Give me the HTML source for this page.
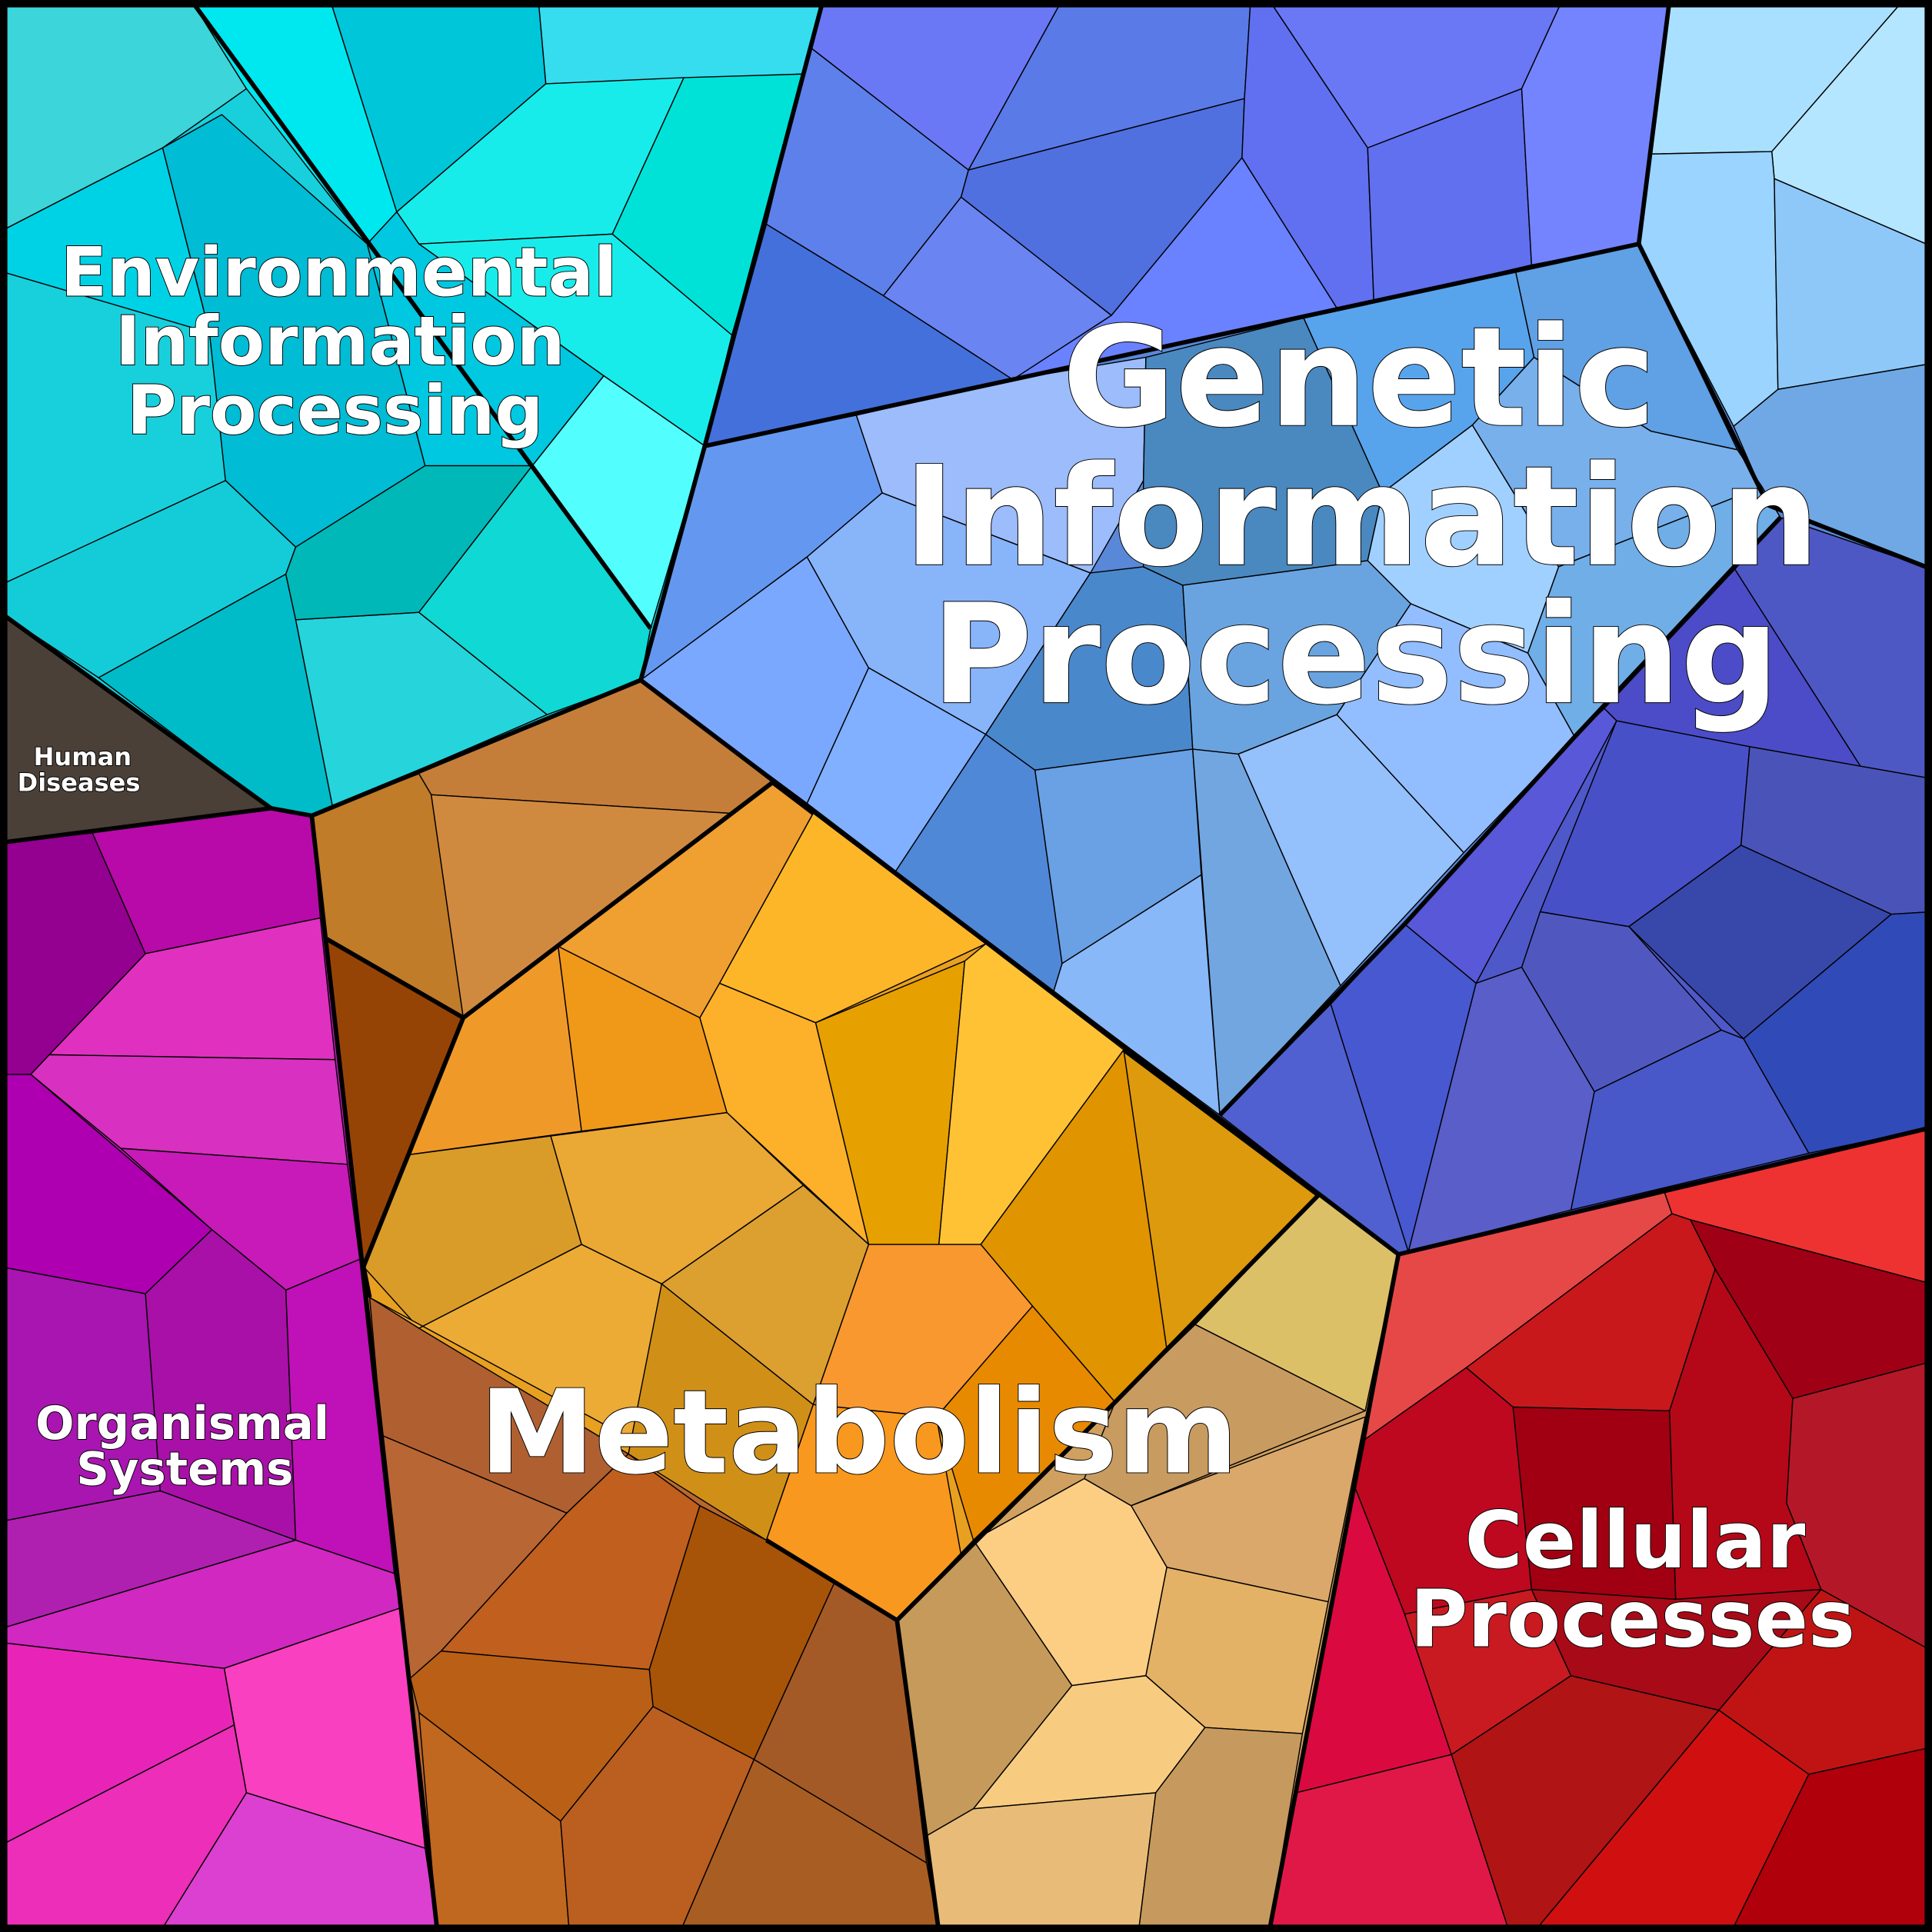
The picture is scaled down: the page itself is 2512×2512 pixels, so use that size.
<!DOCTYPE html>
<html><head><meta charset="utf-8"><style>
html,body{margin:0;padding:0;background:#000}
svg{display:block}
.c polygon{stroke:#000;stroke-width:0.9;stroke-linejoin:round}
.b polygon{stroke:none}
.t{font-family:"DejaVu Sans","Liberation Sans",sans-serif;font-weight:bold;fill:#fff;stroke:#000;stroke-width:1.2;paint-order:stroke;text-anchor:middle}
.k{fill:none;stroke:#000;stroke-width:3.6;stroke-linejoin:round}
</style></head><body>
<svg width="2512" height="2512" viewBox="0 0 1568 1568" xmlns="http://www.w3.org/2000/svg">
<rect width="1568" height="1568" fill="#5a88d8"/>
<g class="b">
<polygon fill="#18d0dc" points="0,0 668,0 572,362 520,552 253,662 220,656 0,497"/>
<polygon fill="#c01ab8" points="0,684 220,656 253,662 355,1568 0,1568"/>
<polygon fill="#b86630" points="253,662 520,552 1135,1018 1030,1568 355,1568"/>
<polygon fill="#e8a020" points="376,826 627,635 912,852 1070,970 905,1138 728,1315 622,1250 300,1053 295,1028"/>
<polygon fill="#d0a060" points="905,1138 1070,970 1135,1018 1030,1568 762,1568 728,1315"/>
<polygon fill="#c01020" points="1135,1018 1568,915 1568,1568 1030,1568"/>
<polygon fill="#6a88f0" points="668,0 1355,0 1330,198 822,308 572,362"/>
<polygon fill="#4e58c8" points="1445,420 1568,462 1568,915 1135,1018 990,905 1140,750 1278,598"/>
</g>
<g class="c">
<polygon fill="#3bd5da" points="0,0 155,0 200,72 132,120 0,188"/>
<polygon fill="#00e8ef" points="155,0 268,0 322,172 298,198 200,72"/>
<polygon fill="#00c6da" points="268,0 437,0 443,68 322,172"/>
<polygon fill="#36ddef" points="437,0 668,0 655,60 443,68"/>
<polygon fill="#18ecea" points="443,68 555,63 497,190 340,198 322,172"/>
<polygon fill="#00e2d8" points="555,63 655,60 594,272 497,190"/>
<polygon fill="#18ecea" points="340,198 497,190 594,272 572,362 490,305"/>
<polygon fill="#52fffe" points="490,305 572,362 528,510 432,378"/>
<polygon fill="#00d2e6" points="0,188 132,120 170,270 0,220"/>
<polygon fill="#00bcd4" points="132,120 180,93 298,198 345,378 240,444 183,390 170,270"/>
<polygon fill="#00c8e0" points="298,198 322,172 340,198 490,305 432,378 345,378"/>
<polygon fill="#14ccd8" points="0,475 183,390 240,444 232,466 80,550 0,497"/>
<polygon fill="#00bcc8" points="80,550 232,466 240,503 270,655 253,662 220,656"/>
<polygon fill="#26d4dc" points="240,503 340,497 444,580 270,655"/>
<polygon fill="#00b8b8" points="232,466 240,444 345,378 432,378 340,497 240,503"/>
<polygon fill="#10d8d4" points="340,497 432,378 528,510 520,552 444,580"/>
<polygon fill="#4b4038" points="0,497 220,656 0,684"/>
<polygon fill="#940090" points="0,684 75,676 118,774 25,872 0,875"/>
<polygon fill="#b80aa8" points="75,676 220,656 253,662 260,745 118,774"/>
<polygon fill="#e030c0" points="118,774 260,745 272,860 40,856"/>
<polygon fill="#d830c0" points="40,856 272,860 282,945 98,932 25,872"/>
<polygon fill="#ae00b0" points="0,872 25,872 172,998 118,1050 0,1028"/>
<polygon fill="#c81ab8" points="98,932 282,945 292,1022 232,1047 172,998"/>
<polygon fill="#a810a8" points="118,1050 172,998 232,1047 240,1250 130,1210"/>
<polygon fill="#a815b0" points="0,1028 118,1050 130,1210 0,1235"/>
<polygon fill="#c010b8" points="232,1047 292,1022 320,1277 240,1250"/>
<polygon fill="#b020b0" points="0,1235 130,1210 240,1250 0,1322"/>
<polygon fill="#d028c0" points="0,1322 240,1250 320,1277 325,1305 182,1354 0,1333"/>
<polygon fill="#e824b8" points="0,1333 182,1354 190,1400 0,1498"/>
<polygon fill="#f840c0" points="182,1354 325,1305 345,1500 200,1455"/>
<polygon fill="#ec2eb8" points="0,1498 190,1400 200,1455 130,1568 0,1568"/>
<polygon fill="#dc40d0" points="200,1455 345,1500 355,1568 130,1568"/>
<polygon fill="#c47e3a" points="253,662 520,552 627,635 592,660 350,645 340,628"/>
<polygon fill="#c07c28" points="253,662 340,628 350,645 376,826 265,762"/>
<polygon fill="#d08a40" points="350,645 592,660 376,826"/>
<polygon fill="#964406" points="265,762 376,826 295,1028"/>
<polygon fill="#ef9a28" points="376,826 453,768 472,918 333,937"/>
<polygon fill="#f09818" points="453,768 568,826 590,903 472,918"/>
<polygon fill="#f0a030" points="453,768 627,635 660,660 584,798 568,826"/>
<polygon fill="#fdb02a" points="568,826 584,798 662,830 705,1010 590,903"/>
<polygon fill="#fdb628" points="584,798 660,660 800,766 662,830"/>
<polygon fill="#e6a000" points="662,830 783,780 762,1010 705,1010"/>
<polygon fill="#ffc235" points="783,780 800,766 912,852 796,1010 762,1010"/>
<polygon fill="#e09400" points="912,852 947,1095 905,1138 838,1060 796,1010"/>
<polygon fill="#dd9a0c" points="912,852 1070,970 970,1075 947,1095"/>
<polygon fill="#da9c28" points="333,937 447,922 472,1010 340,1078 295,1028"/>
<polygon fill="#eaa835" points="447,922 590,903 652,962 537,1042 472,1010"/>
<polygon fill="#ecab35" points="340,1078 472,1010 537,1042 516,1170 300,1053"/>
<polygon fill="#dba030" points="537,1042 652,962 705,1010 660,1140"/>
<polygon fill="#d09018" points="537,1042 660,1140 622,1250 510,1180"/>
<polygon fill="#f8982e" points="705,1010 796,1010 838,1060 760,1150 660,1140"/>
<polygon fill="#e88a00" points="838,1060 905,1138 790,1250 760,1150"/>
<polygon fill="#f8981e" points="660,1140 760,1150 780,1262 728,1315 622,1250"/>
<polygon fill="#b06030" points="300,1053 340,1078 510,1180 460,1228 310,1165"/>
<polygon fill="#b86634" points="310,1165 460,1228 358,1340 333,1362"/>
<polygon fill="#c05f1e" points="460,1228 510,1180 568,1222 527,1355 358,1340"/>
<polygon fill="#a85408" points="568,1222 622,1250 677,1285 612,1428 530,1385 527,1355"/>
<polygon fill="#b96016" points="333,1362 358,1340 527,1355 530,1385 455,1478 340,1390"/>
<polygon fill="#c06820" points="340,1390 455,1478 462,1568 355,1568"/>
<polygon fill="#ba5f20" points="455,1478 530,1385 612,1428 552,1568 462,1568"/>
<polygon fill="#a45a26" points="612,1428 677,1285 728,1315 752,1512"/>
<polygon fill="#a85e22" points="552,1568 612,1428 752,1512 762,1568"/>
<polygon fill="#dcc068" points="970,1075 1070,970 1135,1018 1108,1145"/>
<polygon fill="#c89b60" points="905,1138 970,1075 1108,1145 918,1222 880,1200"/>
<polygon fill="#daa86a" points="918,1222 1108,1150 1078,1300 947,1272"/>
<polygon fill="#fbce84" points="790,1250 880,1200 918,1222 947,1272 930,1360 870,1368"/>
<polygon fill="#c69a5a" points="728,1315 790,1250 870,1368 790,1468 752,1490"/>
<polygon fill="#e4b266" points="947,1272 1078,1300 1057,1407 978,1402 930,1360"/>
<polygon fill="#f8cc80" points="870,1368 930,1360 978,1402 938,1455 790,1468"/>
<polygon fill="#e8bc78" points="752,1490 790,1468 938,1455 924,1568 762,1568"/>
<polygon fill="#c69a5e" points="938,1455 978,1402 1057,1407 1030,1568 924,1568"/>
<polygon fill="#e64848" points="1135,1018 1350,965 1357,985 1190,1110 1108,1168"/>
<polygon fill="#ee3232" points="1350,965 1568,915 1568,1042 1372,990 1357,985"/>
<polygon fill="#c8181c" points="1357,985 1372,990 1392,1030 1355,1145 1228,1142 1190,1110"/>
<polygon fill="#a00016" points="1372,990 1568,1042 1568,1105 1455,1135 1392,1030"/>
<polygon fill="#be0820" points="1108,1168 1190,1110 1228,1142 1243,1290 1140,1310 1100,1208"/>
<polygon fill="#a00012" points="1228,1142 1355,1145 1360,1298 1243,1290"/>
<polygon fill="#b40818" points="1392,1030 1455,1135 1450,1220 1478,1290 1360,1298 1355,1145"/>
<polygon fill="#b41828" points="1455,1135 1568,1105 1568,1340 1478,1290 1450,1220"/>
<polygon fill="#da0a40" points="1100,1208 1140,1310 1178,1424 1052,1455"/>
<polygon fill="#c81a20" points="1140,1310 1243,1290 1275,1360 1178,1424"/>
<polygon fill="#a80a18" points="1243,1290 1360,1298 1478,1290 1395,1388 1275,1360"/>
<polygon fill="#c01414" points="1478,1290 1568,1340 1568,1418 1468,1440 1395,1388"/>
<polygon fill="#e01848" points="1052,1455 1178,1424 1225,1568 1030,1568"/>
<polygon fill="#b01414" points="1178,1424 1275,1360 1395,1388 1245,1568 1225,1568"/>
<polygon fill="#d01010" points="1245,1568 1395,1388 1468,1440 1405,1568"/>
<polygon fill="#b0000c" points="1405,1568 1468,1440 1568,1418 1568,1568"/>
<polygon fill="#6a78f6" points="668,0 862,0 786,138 657,38"/>
<polygon fill="#5e80ea" points="657,38 786,138 780,160 717,240 622,182"/>
<polygon fill="#5a7ae8" points="862,0 1015,0 1010,80 786,138"/>
<polygon fill="#5070e0" points="786,138 1010,80 1008,128 902,256 780,160"/>
<polygon fill="#4470dc" points="622,182 717,240 822,308 572,362"/>
<polygon fill="#6a84f2" points="717,240 780,160 902,256 822,308"/>
<polygon fill="#6a82ff" points="822,308 902,256 1008,128 1085,250"/>
<polygon fill="#6070f0" points="1015,0 1030,0 1110,120 1115,245 1085,250 1008,128 1010,80"/>
<polygon fill="#6a78f6" points="1030,0 1268,0 1235,72 1110,120"/>
<polygon fill="#6070ee" points="1110,120 1235,72 1243,215 1115,245"/>
<polygon fill="#7484ff" points="1268,0 1355,0 1330,198 1243,215 1235,72"/>
<polygon fill="#aae0ff" points="1355,0 1545,0 1438,123 1340,125"/>
<polygon fill="#b4e6ff" points="1545,0 1568,0 1568,200 1440,145 1438,123"/>
<polygon fill="#9ad4ff" points="1340,125 1438,123 1440,145 1443,316 1407,346 1330,198"/>
<polygon fill="#8ec8f8" points="1440,145 1568,200 1568,295 1443,316"/>
<polygon fill="#70a8e6" points="1407,346 1443,316 1568,295 1568,462 1435,410"/>
<polygon fill="#6498f0" points="572,362 695,337 716,400 655,452 520,552"/>
<polygon fill="#7aa8ff" points="520,552 655,452 705,542 655,652"/>
<polygon fill="#88b4fa" points="655,452 716,400 885,465 800,596 705,542"/>
<polygon fill="#80b0ff" points="655,652 705,542 800,596 727,707"/>
<polygon fill="#9cbcfc" points="695,337 822,308 930,290 928,390 885,465 716,400"/>
<polygon fill="#5088d8" points="727,707 800,596 840,625 862,782 855,805"/>
<polygon fill="#4a88cc" points="800,596 885,465 928,460 960,475 968,608 840,625"/>
<polygon fill="#6aa0e4" points="840,625 968,608 975,710 862,782"/>
<polygon fill="#88b8f8" points="855,805 862,782 975,710 990,905"/>
<polygon fill="#4a88c0" points="928,390 930,290 1058,258 1122,400 1110,455 960,475 928,460"/>
<polygon fill="#58a4ec" points="1058,258 1230,220 1245,290 1195,345 1122,400"/>
<polygon fill="#60a0e4" points="1230,220 1330,198 1410,365 1340,350 1245,290"/>
<polygon fill="#6aa4e0" points="960,475 1110,455 1145,490 1085,580 1005,612 968,608"/>
<polygon fill="#72a6e0" points="968,608 1005,612 1088,800 990,905"/>
<polygon fill="#94c0fc" points="1005,612 1085,580 1188,692 1088,800"/>
<polygon fill="#a0d0ff" points="1110,455 1122,400 1195,345 1265,460 1240,530 1145,490"/>
<polygon fill="#92beff" points="1085,580 1145,490 1240,530 1278,598 1188,692"/>
<polygon fill="#78b0ec" points="1195,345 1245,290 1340,350 1410,365 1430,395 1265,460"/>
<polygon fill="#70aee8" points="1265,460 1430,395 1445,420 1278,598 1240,530"/>
<polygon fill="#4e58c4" points="1445,420 1568,462 1568,632 1510,622 1408,462"/>
<polygon fill="#4c4cc8" points="1408,462 1510,622 1420,606 1312,585 1302,575"/>
<polygon fill="#5858d8" points="1140,750 1278,598 1302,575 1312,585 1198,798"/>
<polygon fill="#4850c8" points="1312,585 1420,606 1413,686 1322,752 1250,740"/>
<polygon fill="#4a54b8" points="1420,606 1568,632 1568,740 1535,742 1413,686"/>
<polygon fill="#3848aa" points="1413,686 1535,742 1415,843 1322,752"/>
<polygon fill="#304ab8" points="1535,742 1568,740 1568,915 1468,936 1415,843"/>
<polygon fill="#5058c0" points="1250,740 1322,752 1397,836 1294,886 1235,785"/>
<polygon fill="#4858d0" points="1080,815 1140,750 1198,798 1143,1016"/>
<polygon fill="#5a5ec8" points="1198,798 1235,785 1294,886 1275,982 1143,1016"/>
<polygon fill="#5060d0" points="990,905 1080,815 1143,1016 1135,1018"/>
<polygon fill="#4858c8" points="1294,886 1397,836 1415,843 1468,936 1275,982"/>
</g>
<polyline class="k" points="668,0 572,362 520,552 253,662 220,656 0,497"/>
<polyline class="k" points="220,656 0,684"/>
<polyline class="k" points="155,0 528,510"/>
<polyline class="k" points="253,662 355,1568"/>
<polyline class="k" points="520,552 1135,1018 1030,1568"/>
<polyline class="k" points="1135,1018 1568,915"/>
<polyline class="k" points="572,362 822,308 1330,198 1355,0"/>
<polyline class="k" points="1330,198 1435,410 1568,462"/>
<polyline class="k" points="1445,420 1278,598 1140,750 990,905"/>
<polyline class="k" points="376,826 627,635"/>
<polyline class="k" points="265,762 376,826 295,1028 300,1053"/>
<polyline class="k" points="660,660 627,635"/>
<polyline class="k" points="912,852 1070,970 905,1138 728,1315 622,1250"/>
<polyline class="k" points="728,1315 762,1568"/>
<rect x="2.5" y="2.5" width="1563" height="1563" fill="none" stroke="#000" stroke-width="7"/>
<text class="t" font-size="55" x="275" y="240">Environmental</text>
<text class="t" font-size="55" x="276" y="296">Information</text>
<text class="t" font-size="55" x="272" y="352">Processing</text>
<text class="t" font-size="112" stroke-width="1.5" x="1103" y="345">Genetic</text>
<text class="t" font-size="112" stroke-width="1.5" x="1105" y="458">Information</text>
<text class="t" font-size="112" stroke-width="1.5" x="1100" y="570">Processing</text>
<text class="t" font-size="94" stroke-width="1.5" x="697" y="1195">Metabolism</text>
<text class="t" font-size="64" x="1327" y="1272">Cellular</text>
<text class="t" font-size="64" x="1325" y="1336">Processes</text>
<text class="t" font-size="37" x="148" y="1168">Organismal</text>
<text class="t" font-size="37" x="150" y="1205">Systems</text>
<text class="t" font-size="20" stroke-width="0.8" x="67" y="621">Human</text>
<text class="t" font-size="20" stroke-width="0.8" x="64" y="642">Diseases</text>
</svg>
</body></html>
